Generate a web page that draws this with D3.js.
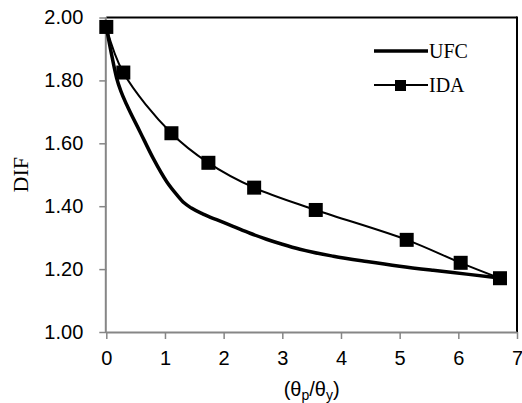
<!DOCTYPE html>
<html>
<head>
<meta charset="utf-8">
<script src="https://cdn.jsdelivr.net/npm/d3@7"></script>
<style>
  html, body { margin: 0; padding: 0; background: #fff; }
  svg { display: block; }
</style>
</head>
<body>
<svg id="chart" width="522" height="403"></svg>
<script>
// ---- Data ----
const ufcX = [0, 0.03, 0.1, 0.177, 0.25, 0.35, 0.574, 0.8, 1.03, 1.2, 1.33, 1.45, 1.65, 1.88, 2.16, 2.45, 2.73, 3.0, 3.3, 3.87, 4.44, 5.0, 5.57, 6.14, 6.7];
const ufcY = [1.97, 1.94, 1.873, 1.807, 1.765, 1.722, 1.637, 1.552, 1.478, 1.437, 1.41, 1.394, 1.375, 1.357, 1.336, 1.314, 1.295, 1.279, 1.263, 1.241, 1.224, 1.209, 1.196, 1.184, 1.172];
const idaX = [0, 0.29, 1.11, 1.74, 2.52, 3.57, 5.12, 6.04, 6.71];
const idaY = [1.97, 1.825, 1.632, 1.538, 1.459, 1.388, 1.293, 1.22, 1.171];
const xTicks = [0, 1, 2, 3, 4, 5, 6, 7];
const yTicks = [1.0, 1.2, 1.4, 1.6, 1.8, 2.0];
const seriesNames = ["UFC", "IDA"];

// ---- Layout ----
const W = 522, H = 403;
const margin = { left: 106.3, right: 5, top: 17.5, bottom: 71 };
const svg = d3.select("#chart");
const x = d3.scaleLinear().domain([0, 7]).range([margin.left, W - margin.right]);
const y = d3.scaleLinear().domain([1, 2]).range([H - margin.bottom, margin.top]);
const axisGray = "#868686";
const sans = "'Liberation Sans', Arial, sans-serif";
const serif = "'Liberation Serif', 'Times New Roman', serif";

// top & right border (black)
svg.append("line").attr("x1", x(0)).attr("x2", x(7)).attr("y1", y(2)).attr("y2", y(2))
  .attr("stroke", "#000").attr("stroke-width", 2);
svg.append("line").attr("x1", x(7)).attr("x2", x(7)).attr("y1", y(2) - 1).attr("y2", y(1))
  .attr("stroke", "#000").attr("stroke-width", 2);

// axes
const xAxis = svg.append("g").attr("transform", `translate(0,${y(1)})`)
  .call(d3.axisBottom(x).tickValues(xTicks).tickFormat(d3.format("d")).tickSize(7).tickPadding(12));
const yAxis = svg.append("g").attr("transform", `translate(${x(0)},0)`)
  .call(d3.axisLeft(y).tickValues(yTicks).tickFormat(d3.format(".2f")).tickSize(7).tickPadding(16));
[xAxis, yAxis].forEach(g => {
  g.select(".domain").attr("stroke", axisGray).attr("stroke-width", 2);
  g.selectAll(".tick line").attr("stroke", axisGray).attr("stroke-width", 1.5);
  g.selectAll(".tick text").attr("fill", "#000").style("font-family", sans).style("font-size", "20px");
});
xAxis.select(".domain").attr("d", `M${x(0)},0.5H${x(7)}`);
yAxis.select(".domain").attr("d", `M-0.5,${y(1)}V${y(2)}`);

// axis titles
const xt = svg.append("text").attr("x", (x(0) + x(7)) / 2).attr("y", 396)
  .attr("text-anchor", "middle").style("font-family", sans).style("font-size", "20px");
xt.append("tspan").text("(θ");
xt.append("tspan").text("p").attr("dy", 4).style("font-size", "14px");
xt.append("tspan").text("/θ").attr("dy", -4);
xt.append("tspan").text("y").attr("dy", 4).style("font-size", "14px");
xt.append("tspan").text(")").attr("dy", -4);

svg.append("text").attr("transform", `translate(28,${(y(1) + y(2)) / 2}) rotate(-90)`)
  .attr("text-anchor", "middle").style("font-family", serif).style("font-size", "22px").text("DIF");

// series
const ufc = ufcX.map((d, i) => [d, ufcY[i]]);
const ida = idaX.map((d, i) => [d, idaY[i]]);
const ufcLine = d3.line().x(d => x(d[0])).y(d => y(d[1])).curve(d3.curveMonotoneX);
const idaLine = d3.line().x(d => x(d[0])).y(d => y(d[1])).curve(d3.curveCatmullRom.alpha(0.5));

svg.append("path").attr("d", ufcLine(ufc)).attr("fill", "none").attr("stroke", "#000").attr("stroke-width", 3.5);
svg.append("path").attr("d", idaLine(ida)).attr("fill", "none").attr("stroke", "#000").attr("stroke-width", 2);
const ms = 14;
svg.selectAll("rect.ida").data(ida).enter().append("rect").attr("class", "ida")
  .attr("x", d => x(d[0]) - ms / 2).attr("y", d => y(d[1]) - ms / 2)
  .attr("width", ms).attr("height", ms).attr("fill", "#000");

// legend
const lg = svg.append("g");
lg.append("line").attr("x1", 374).attr("x2", 428).attr("y1", 51).attr("y2", 51)
  .attr("stroke", "#000").attr("stroke-width", 3.5);
lg.append("text").attr("x", 429).attr("y", 58).style("font-family", serif).style("font-size", "20px").text(seriesNames[0]);
lg.append("line").attr("x1", 374).attr("x2", 428).attr("y1", 85).attr("y2", 85)
  .attr("stroke", "#000").attr("stroke-width", 2);
lg.append("rect").attr("x", 395).attr("y", 80).attr("width", 11).attr("height", 11).attr("fill", "#000");
lg.append("text").attr("x", 429).attr("y", 92).style("font-family", serif).style("font-size", "20px").text(seriesNames[1]);
</script>
</body>
</html>
